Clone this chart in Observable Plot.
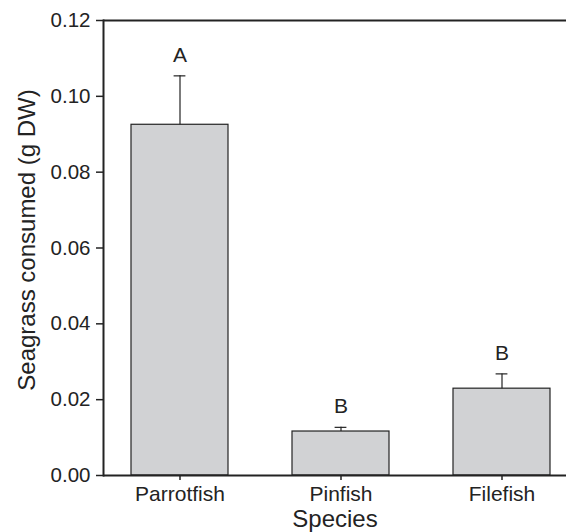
<!DOCTYPE html>
<html>
<head>
<meta charset="utf-8">
<script src="https://cdn.jsdelivr.net/npm/d3@7"></script>
<script src="https://cdn.jsdelivr.net/npm/@observablehq/plot@0.6"></script>
<style>
  html, body { margin: 0; padding: 0; background: #fff; }
  #chart svg { display: block; }
</style>
</head>
<body>
<div id="chart"></div>
<script>
const species = ["Parrotfish", "Pinfish", "Filefish"];
const means = [0.0925, 0.0116, 0.0229];
const errors = [0.0129, 0.0011, 0.0039];
const letters = ["A", "B", "B"];
const yTicks = [0, 0.02, 0.04, 0.06, 0.08, 0.10, 0.12];
const yTitle = "Seagrass consumed (g DW)";
const xTitle = "Species";

const data = species.map((s, i) => ({
  species: s,
  mean: means[i],
  upper: means[i] + errors[i],
  letter: letters[i]
}));

const ink = "#232323";
const font = "'Liberation Sans', Arial, Helvetica, sans-serif";

const chart = Plot.plot({
  width: 566,
  height: 532,
  marginLeft: 103,
  marginRight: 0,
  marginTop: 20,
  marginBottom: 57,
  style: { fontFamily: font, color: ink, background: "#fff" },
  x: { domain: species, range: [103, 577], paddingInner: 0.4, paddingOuter: 0.163, label: null },
  y: { domain: [0, 0.12], label: null },
  marks: [
    Plot.barY(data, { x: "species", y: "mean", fill: "#d1d2d4", stroke: ink, strokeWidth: 1.2 }),
    Plot.ruleX(data, { x: "species", y1: "mean", y2: "upper", stroke: ink, strokeWidth: 1.2 }),
    Plot.tickY(data, { x: "species", y: "upper", stroke: ink, strokeWidth: 1.2, insetLeft: 42.6, insetRight: 42.6 }),
    Plot.text(data, { x: "species", y: "upper", text: "letter", dy: -21, fontSize: 21, fill: ink }),
    Plot.ruleY([0, 0.12], { stroke: ink, strokeWidth: 2 }),
    Plot.frame({ anchor: "left", stroke: ink, strokeWidth: 2 }),
    Plot.axisY({ ticks: yTicks, tickFormat: d3.format(".2f"), tickSize: 7, tickPadding: 6, fontSize: 20.5, strokeWidth: 1.5, label: null }),
    Plot.axisX({ tickSize: 5, tickPadding: 6, fontSize: 21, strokeWidth: 1.5, label: null }),
    Plot.text([yTitle], { frameAnchor: "left", textAnchor: "middle", lineAnchor: "middle", dx: -76, dy: -8, rotate: -90, fontSize: 24, fill: ink }),
    Plot.text([xTitle], { frameAnchor: "bottom", textAnchor: "middle", lineAnchor: "middle", dy: 44, fontSize: 24, fill: ink })
  ]
});

document.getElementById("chart").appendChild(chart);
</script>
</body>
</html>
